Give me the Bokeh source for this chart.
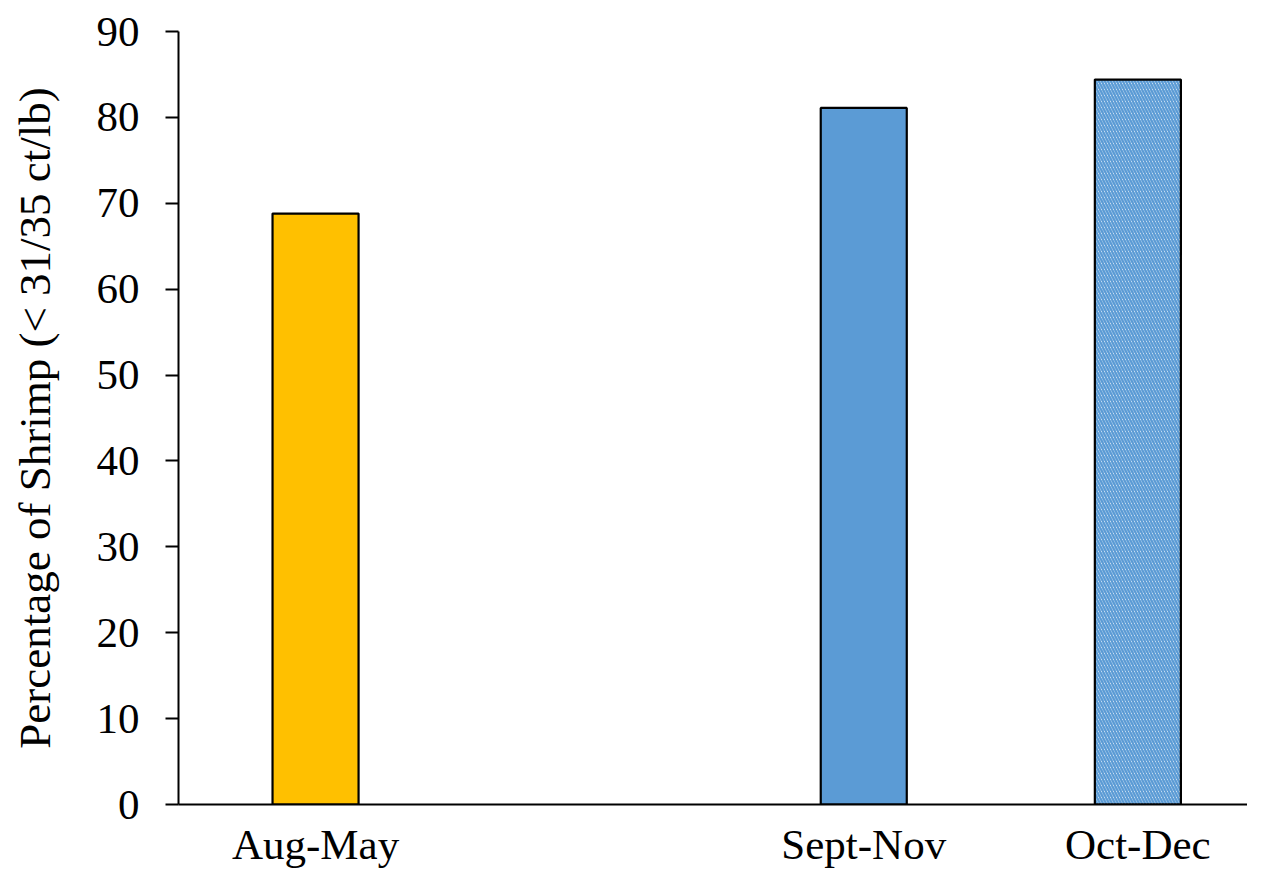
from bokeh.plotting import figure
from bokeh.models import Range1d, FixedTicker, ColumnDataSource
from bokeh.embed import file_html
from bokeh.resources import INLINE

# Data
categories = ["Aug-May", "Sept-Nov", "Oct-Dec"]
values = [68.8, 81.1, 84.4]
slots = [0, 2, 3]  # category slot (one empty slot between first and second)
fills = ["#FFC000", "#5B9BD5", "white"]
hatches = [" ", " ", "left_diagonal_line"]
y_ticks = [0, 10, 20, 30, 40, 50, 60, 70, 80, 90]

xs = [s + 0.5 for s in slots]
src = ColumnDataSource(dict(x=xs, top=values, fill=fills, hatch=hatches, name=categories))

FONT = "Liberation Serif"

p = figure(width=1247, height=870, output_backend="svg", toolbar_location=None,
           x_range=Range1d(0, 3.90), y_range=Range1d(0, 90),
           min_border_left=178, min_border_right=0, min_border_top=31, min_border_bottom=66)
p.outline_line_color = None
p.xgrid.visible = False
p.ygrid.visible = False
p.background_fill_color = "white"
p.border_fill_color = "white"

p.vbar(x="x", top="top", bottom=0, width=86/274, source=src,
       fill_color="fill", line_color="black", line_width=2.2,
       hatch_pattern="hatch", hatch_color="#5B9BD5", hatch_scale=6, hatch_weight=2.4)

# X axis
xa = p.xaxis[0]
xa.ticker = FixedTicker(ticks=xs)
xa.major_label_overrides = {x: c for x, c in zip(xs, categories)}
xa.major_tick_line_color = None
xa.major_tick_out = 0
xa.major_tick_in = 0
xa.minor_tick_line_color = None
xa.axis_line_color = "black"
xa.axis_line_width = 2
xa.major_label_text_font = FONT
xa.major_label_text_font_size = "43px"
xa.major_label_text_color = "black"
xa.major_label_standoff = 16

# Y axis
ya = p.yaxis[0]
ya.ticker = FixedTicker(ticks=y_ticks)
ya.minor_tick_line_color = None
ya.major_tick_in = 0
ya.major_tick_out = 13
ya.major_tick_line_width = 2
ya.major_tick_line_color = "black"
ya.axis_line_color = "black"
ya.axis_line_width = 2
ya.major_label_text_font = FONT
ya.major_label_text_font_size = "43px"
ya.major_label_text_color = "black"
ya.major_label_standoff = 26
ya.axis_label = "Percentage of Shrimp (< 31/35 ct/lb)"
ya.axis_label_text_font = FONT
ya.axis_label_text_font_size = "45px"
ya.axis_label_text_font_style = "normal"
ya.axis_label_text_color = "black"
ya.axis_label_standoff = 34

open("out.html", "w").write(file_html(p, INLINE))
